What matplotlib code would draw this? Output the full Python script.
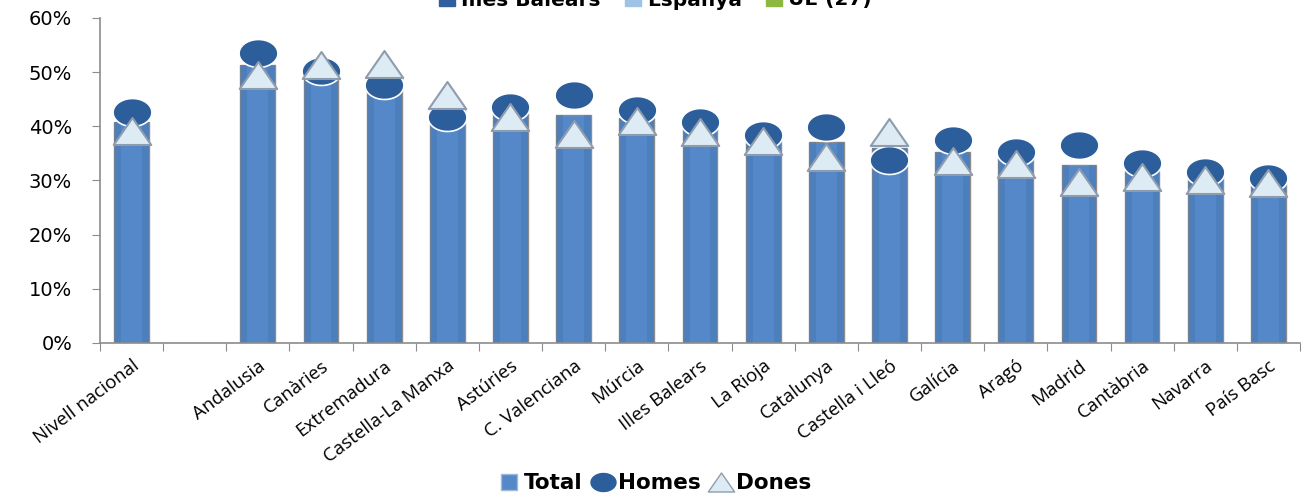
import numpy as np
import matplotlib
matplotlib.use('Agg')
import matplotlib.pyplot as plt
from matplotlib.path import Path
from matplotlib.lines import Line2D
from matplotlib.ticker import PercentFormatter

# Categories (the empty slot after "Nivell nacional" is a gap in the original)
categories = ['Nivell nacional', '', 'Andalusia', 'Canàries', 'Extremadura',
              'Castella-La Manxa', 'Astúries', 'C. Valenciana', 'Múrcia',
              'Illes Balears', 'La Rioja', 'Catalunya', 'Castella i Lleó',
              'Galícia', 'Aragó', 'Madrid', 'Cantàbria', 'Navarra', 'País Basc']

# Values in % (None = empty slot)
total = [40.8, None, 51.3, 50.4, 49.3, 43.4, 42.4, 42.1, 41.5, 39.7, 37.8,
         37.1, 36.0, 35.2, 34.3, 32.8, 31.8, 30.8, 29.9]
homes = [42.6, None, 53.5, 50.2, 47.6, 41.7, 43.5, 45.8, 43.0, 40.8, 38.4,
         39.9, 33.8, 37.5, 35.2, 36.5, 33.2, 31.6, 30.4]
dones = [39.1, None, 49.4, 51.3, 51.5, 45.8, 41.7, 38.6, 41.0, 38.9, 37.3,
         34.3, 38.9, 33.6, 33.0, 29.7, 30.6, 30.1, 29.5]

top_legend = ['Illes Balears', 'Espanya', 'UE (27)']
top_legend_colors = ['#2F5F9E', '#9DC3E6', '#8DB83F']

bar_color = '#5588C8'
homes_color = '#2C5E9C'
dones_color = '#DDEBF4'

def to_arr(v):
    return np.array([np.nan if x is None else x / 100 for x in v])

x = np.arange(len(categories))
t = to_arr(total)
h = to_arr(homes)
d = to_arr(dones)

# custom marker shapes: flat ellipse and wide triangle
ang = np.linspace(0, 2 * np.pi, 60)
ellipse = Path(np.column_stack([1.0 * np.cos(ang), 0.72 * np.sin(ang)]), closed=True)
tri = Path([(-1.0, -0.72), (1.0, -0.72), (0.0, 0.72), (-1.0, -0.72)], closed=True)

fig = plt.figure(figsize=(13.03, 4.93), dpi=100)
ax = fig.add_axes([0.0767, 0.3043, 0.921, 0.6592])

mask = ~np.isnan(t)
w = 0.55
ax.bar(x[mask], t[mask], width=w, color=bar_color, edgecolor='#8C8C8C',
       linewidth=1.0, zorder=2)
# darker side shading to mimic the cylinder look
ax.bar(x[mask] - w * 0.40, t[mask], width=w * 0.2, color='#3F6FA8', alpha=0.35,
       linewidth=0, zorder=2.1)
ax.bar(x[mask] + w * 0.40, t[mask], width=w * 0.2, color='#3F6FA8', alpha=0.35,
       linewidth=0, zorder=2.1)

ax.plot(x, h, linestyle='none', marker=ellipse, markersize=28,
        markerfacecolor=homes_color, markeredgecolor='white',
        markeredgewidth=1.2, zorder=3)
ax.plot(x, d, linestyle='none', marker=tri, markersize=27,
        markerfacecolor=dones_color, markeredgecolor='#8E9CAD',
        markeredgewidth=1.5, zorder=4)

ax.set_xlim(-0.5, len(categories) - 0.5)
ax.set_ylim(0, 0.6)
ax.set_yticks(np.arange(0, 0.61, 0.1))
ax.yaxis.set_major_formatter(PercentFormatter(1.0, decimals=0))

ax.set_xticks(np.arange(-0.5, len(categories), 1.0), minor=False)
ax.set_xticklabels([])
ax.set_xticks(x, minor=True)
ax.set_xticklabels(categories, minor=True, rotation=37, ha='right',
                   va='top', rotation_mode='anchor', fontsize=13.5,
                   family='Open Sans')
ax.tick_params(axis='x', which='minor', length=0, pad=10)
ax.tick_params(axis='x', which='major', length=6, color='#8C8C8C')
ax.tick_params(axis='y', length=6, color='#8C8C8C', labelsize=14, pad=14)

for s in ['top', 'right']:
    ax.spines[s].set_visible(False)
for s in ['left', 'bottom']:
    ax.spines[s].set_color('#8C8C8C')
    ax.spines[s].set_linewidth(1.2)

# bottom legend
handles = [
    Line2D([], [], linestyle='none', marker='s', markersize=11,
           markerfacecolor=bar_color, markeredgecolor='#9DB8DA'),
    Line2D([], [], linestyle='none', marker=ellipse, markersize=18,
           markerfacecolor=homes_color, markeredgecolor=homes_color),
    Line2D([], [], linestyle='none', marker=tri, markersize=19,
           markerfacecolor=dones_color, markeredgecolor='#8E9CAD'),
]
fig.legend(handles, ['Total', 'Homes', 'Dones'], loc='center',
           bbox_to_anchor=(0.502, 0.02), ncol=3, frameon=False,
           prop={'weight': 'bold', 'size': 15.5}, handletextpad=0.15,
           columnspacing=0.4, handlelength=1.1)

# leftover legend cut off at the top of the image (as in the source picture)
top_handles = [Line2D([], [], linestyle='none', marker='s', markersize=12,
                      markerfacecolor=c, markeredgecolor=c)
               for c in top_legend_colors]
fig.legend(top_handles, top_legend, loc='center',
           bbox_to_anchor=(0.503, 1.0), ncol=3, frameon=False,
           prop={'weight': 'bold', 'size': 14.5}, handletextpad=0.3,
           columnspacing=1.2, handlelength=0.8)

fig.savefig('out.png', dpi=100)
